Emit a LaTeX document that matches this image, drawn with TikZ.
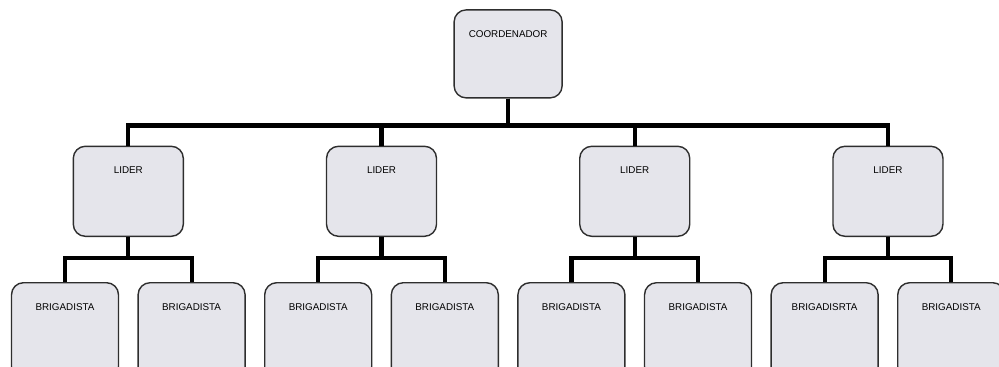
\documentclass[tikz,border=0pt]{standalone}
\usepackage{fontspec}
\setmainfont{Liberation Sans}
\usetikzlibrary{positioning,calc}

\definecolor{boxfill}{HTML}{E5E5EB}
\definecolor{boxline}{HTML}{2E2E2E}

\tikzset{
  orgbox/.style={draw=boxline,fill=boxfill,line width=1pt,rounded corners=0.3cm,
    inner xsep=0pt,inner ysep=0pt,text height=0.69cm,font=\fontsize{7}{8}\selectfont},
  coordbox/.style={orgbox,minimum width=2.7cm,text depth=1.51cm},
  liderbox/.style={orgbox,minimum width=2.75cm,text depth=1.56cm},
  brigbox/.style={orgbox,minimum width=2.675cm,text depth=1.71cm},
  bus/.style={line width=3pt,line join=miter}
}

\begin{document}
\begin{tikzpicture}[node distance=0.455cm]
\useasboundingbox (0,0) rectangle (24.975,-9.15);
\clip (0,0) rectangle (24.975,-9.15);

% brigadistas
\node[brigbox,anchor=north] (b1) at (1.625,-7.05) {BRIGADISTA};
\node[brigbox,right=of b1] (b2) {BRIGADISTA};
\node[brigbox,right=of b2] (b3) {BRIGADISTA};
\node[brigbox,right=of b3] (b4) {BRIGADISTA};
\node[brigbox,right=of b4] (b5) {BRIGADISTA};
\node[brigbox,right=of b5] (b6) {BRIGADISTA};
\node[brigbox,right=of b6] (b7) {BRIGADISRTA};
\node[brigbox,right=of b7] (b8) {BRIGADISTA};

% lideres
\coordinate (m1) at ($(b1.north)!0.5!(b2.north)$);
\coordinate (m2) at ($(b3.north)!0.5!(b4.north)$);
\coordinate (m3) at ($(b5.north)!0.5!(b6.north)$);
\coordinate (m4) at ($(b7.north)!0.5!(b8.north)$);
\node[liderbox,above=1.125cm of m1] (l1) {LIDER};
\node[liderbox,above=1.125cm of m2] (l2) {LIDER};
\node[liderbox,above=1.125cm of m3] (l3) {LIDER};
\node[liderbox,above=1.125cm of m4] (l4) {LIDER};

% coordenador
\coordinate (m0) at ($(l2.north)!0.5!(l3.north)$);
\node[coordbox,above=1.175cm of m0] (co) {COORDENADOR};

\foreach \l in {l1,l2,l3,l4}
  \draw[bus] (co.south) -- ++(0,-0.675) -| (\l.north);
\draw[bus] (l1.south) -- ++(0,-0.525) -| (b1.north);
\draw[bus] (l1.south) -- ++(0,-0.525) -| (b2.north);
\draw[bus] (l2.south) -- ++(0,-0.525) -| (b3.north);
\draw[bus] (l2.south) -- ++(0,-0.525) -| (b4.north);
\draw[bus] (l3.south) -- ++(0,-0.525) -| (b5.north);
\draw[bus] (l3.south) -- ++(0,-0.525) -| (b6.north);
\draw[bus] (l4.south) -- ++(0,-0.525) -| (b7.north);
\draw[bus] (l4.south) -- ++(0,-0.525) -| (b8.north);
\end{tikzpicture}
\end{document}
